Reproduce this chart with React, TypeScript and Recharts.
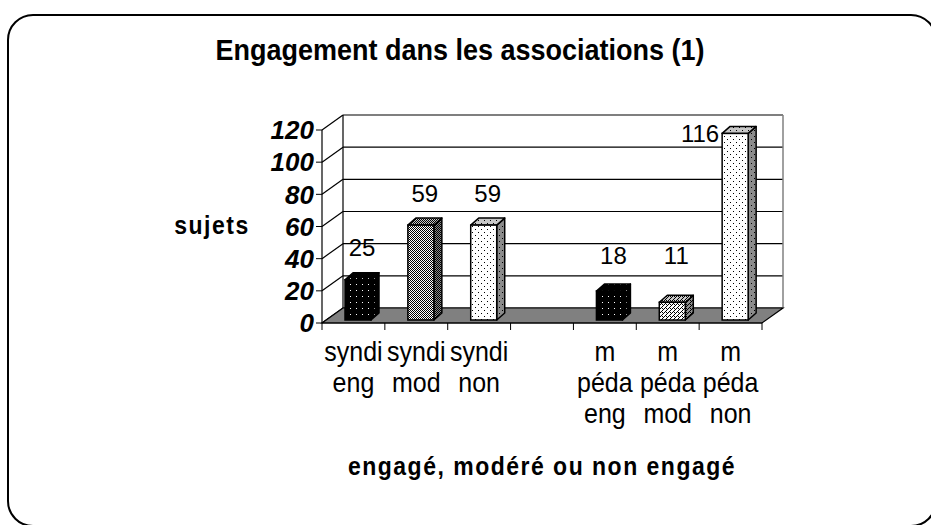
import React from 'react';
import { BarChart, Bar, XAxis, YAxis, CartesianGrid, ReferenceArea, LabelList, Cell } from 'recharts';

const CATEGORIES = ['syndi eng', 'syndi mod', 'syndi non', '', 'm péda eng', 'm péda mod', 'm péda non'];
const SUJETS = [25, 59, 59, null, 18, 11, 116];
const Y_TICKS = [0, 20, 40, 60, 80, 100, 120];
const Y_MAX = 120;

const data = CATEGORIES.map((name, i) => ({ name, sujets: SUJETS[i] }));

// fill pattern per category (style only)
const FILLS = ['dark', 'check', 'light', 'light', 'dark', 'checkLight', 'light'];

const FONT = '"Liberation Sans", Arial, sans-serif';
const DX = 21; // depth of the walls
const DY = -15;
const BX = 5; // bar pushed into the depth
const BY = -3;
const BD = 8; // bar thickness
const BH = -7;

function Patterns() {
  return (
    <svg width={0} height={0} style={{ position: 'absolute' }}>
      <defs>
        <pattern id="pat-dark" width={6} height={6} patternUnits="userSpaceOnUse">
          <rect width={6} height={6} fill="#000" />
          <rect x={2} y={2} width={1} height={1} fill="#fff" />
        </pattern>
        <pattern id="pat-light" width={6} height={6} patternUnits="userSpaceOnUse">
          <rect width={6} height={6} fill="#fff" />
          <rect x={1} y={1} width={1} height={1} fill="#000" />
          <rect x={4} y={4} width={1} height={1} fill="#000" />
        </pattern>
        <pattern id="pat-check" width={2} height={2} patternUnits="userSpaceOnUse">
          <rect width={2} height={2} fill="#fff" />
          <rect x={0} y={0} width={1} height={1} fill="#000" />
          <rect x={1} y={1} width={1} height={1} fill="#000" />
        </pattern>
        <pattern id="pat-checkLight" width={4} height={4} patternUnits="userSpaceOnUse">
          <rect width={4} height={4} fill="#fff" />
          <rect x={0} y={0} width={1} height={1} fill="#000" />
          <rect x={2} y={2} width={1} height={1} fill="#000" />
          <rect x={1} y={3} width={1} height={1} fill="#000" />
          <rect x={3} y={1} width={1} height={1} fill="#000" />
          <rect x={2} y={0} width={1} height={1} fill="#000" />
        </pattern>
      </defs>
    </svg>
  );
}

// 3D column: front face, top and right side
function Bar3D(props: any) {
  const { x, y, width, height, fill } = props;
  if (!height || height <= 0) return null;
  const fx = x + BX;
  const fy = y + BY;
  const top = `${fx},${fy} ${fx + BD},${fy + BH} ${fx + width + BD},${fy + BH} ${fx + width},${fy}`;
  const side = `${fx + width},${fy} ${fx + width + BD},${fy + BH} ${fx + width + BD},${fy + height + BH} ${fx + width},${fy + height}`;
  return (
    <g>
      <polygon points={side} fill={fill} />
      <polygon points={side} fill="#000" fillOpacity={0.45} stroke="#000" strokeWidth={1.5} strokeLinejoin="round" />
      <polygon points={top} fill={fill} />
      <polygon points={top} fill="#000" fillOpacity={0.22} stroke="#000" strokeWidth={1.5} strokeLinejoin="round" />
      <rect x={fx} y={fy} width={width} height={height} fill={fill} stroke="#000" strokeWidth={1.5} />
    </g>
  );
}

function ValueLabel(props: any) {
  const vb = props.viewBox ?? props;
  const x = vb.x ?? props.x;
  const y = vb.y ?? props.y;
  const width = vb.width ?? props.width;
  const height = vb.height ?? props.height;
  const value = props.value;
  if (value == null || !height) return null;
  const fx = x + BX;
  const fy = y + BY;
  const style = { fontFamily: FONT, fontSize: 24, fill: '#000' };
  if (value + 20 > Y_MAX) {
    return (
      <text x={fx - 3} y={fy} dy="0.36em" textAnchor="end" style={style}>{value}</text>
    );
  }
  const unit = height / value;
  const cy = Math.min(fy, fy + height - 20 * unit) - 32;
  return (
    <text x={fx + width / 2 + 4} y={cy} dy="0.36em" textAnchor="middle" style={style}>{value}</text>
  );
}

function CategoryTick(props: any) {
  const { x, y, payload } = props;
  const half = payload.offset ?? 31.4;
  const lines = String(payload.value).split(' ').filter(Boolean);
  const last = payload.index === CATEGORIES.length - 1;
  return (
    <g>
      <line x1={x - half} y1={y} x2={x - half} y2={y + 7} stroke="#000" />
      {last && <line x1={x + half} y1={y} x2={x + half} y2={y + 7} stroke="#000" />}
      {lines.map((l, i) => (
        <text
          key={i}
          transform={`translate(${x},${y + 38 + i * 31}) scale(1,1.1)`}
          textAnchor="middle"
          style={{ fontFamily: FONT, fontSize: 25, fill: '#000' }}
        >
          {l}
        </text>
      ))}
    </g>
  );
}

const gridLine = (p: any) => {
  const { x1, y1, x2, y2 } = p;
  return (
    <g key={`grid-${y1}`}>
      <line x1={x1} y1={y1} x2={x1 + DX} y2={y1 + DY} stroke="#000" strokeWidth={1.2} />
      <line x1={x1 + DX} y1={y1 + DY} x2={x2 + DX} y2={y2 + DY} stroke="#000" strokeWidth={1.2} />
    </g>
  );
};

const Walls = (p: any) => {
  const { x, y, width: w, height: h } = p;
  const b = y + h;
  return (
    <g>
      <line x1={x + DX} y1={y + DY} x2={x + DX} y2={b + DY} stroke="#000" strokeWidth={1.2} />
      <line x1={x + w + DX} y1={y + DY} x2={x + w + DX} y2={b + DY} stroke="#808080" strokeWidth={1.5} />
      <polygon
        points={`${x},${b} ${x + w},${b} ${x + w + DX},${b + DY} ${x + DX},${b + DY}`}
        fill="#808080"
        stroke="#000"
        strokeWidth={1.2}
      />
    </g>
  );
};

export default function App() {
  return (
    <div style={{ position: 'absolute', left: 0, top: 0, width: 931, height: 525, overflow: 'hidden', background: '#fff' }}>
      <Patterns />
      <BarChart
        width={931}
        height={525}
        data={data}
        margin={{ top: 130, right: 169, bottom: 52, left: 0 }}
        barSize={26}
      >
        <CartesianGrid vertical={false} horizontal={gridLine} />
        <ReferenceArea y1={0} y2={Y_MAX} shape={Walls} />
        <XAxis
          dataKey="name"
          interval={0}
          height={150}
          tickLine={false}
          tickSize={0}
          tickMargin={0}
          axisLine={{ stroke: '#000', strokeWidth: 1.2 }}
          tick={<CategoryTick />}
        />
        <YAxis
          width={322}
          domain={[0, Y_MAX]}
          ticks={Y_TICKS}
          interval={0}
          tickSize={6}
          axisLine={{ stroke: '#000', strokeWidth: 1.2 }}
          tickLine={{ stroke: '#000' }}
          tick={{ fill: '#000', fontSize: 26, fontWeight: 'bold', fontStyle: 'italic', fontFamily: FONT }}
        />
        <Bar dataKey="sujets" shape={<Bar3D />} isAnimationActive={false}>
          {data.map((d, i) => (
            <Cell key={d.name + i} fill={`url(#pat-${FILLS[i]})`} />
          ))}
          <LabelList dataKey="sujets" content={<ValueLabel />} />
        </Bar>
      </BarChart>
      <svg width={931} height={525} style={{ position: 'absolute', left: 0, top: 0, pointerEvents: 'none' }}>
        <rect x={8} y={15} width={928} height={511} rx={25} ry={25} fill="none" stroke="#000" strokeWidth={2} />
        <text
          transform="translate(460,60) scale(1,1.1)"
          textAnchor="middle"
          style={{ fontFamily: FONT, fontSize: 27, fontWeight: 'bold', fill: '#000' }}
        >
          Engagement dans les associations (1)
        </text>
        <text
          transform="translate(212,234) scale(1,1.15)"
          textAnchor="middle"
          style={{ fontFamily: FONT, fontSize: 23, fontWeight: 'bold', letterSpacing: 1.5, fill: '#000' }}
        >
          sujets
        </text>
        <text
          transform="translate(542,475) scale(1,1.15)"
          textAnchor="middle"
          style={{ fontFamily: FONT, fontSize: 23, fontWeight: 'bold', letterSpacing: 1.5, fill: '#000' }}
        >
          engagé, modéré ou non engagé
        </text>
      </svg>
    </div>
  );
}
